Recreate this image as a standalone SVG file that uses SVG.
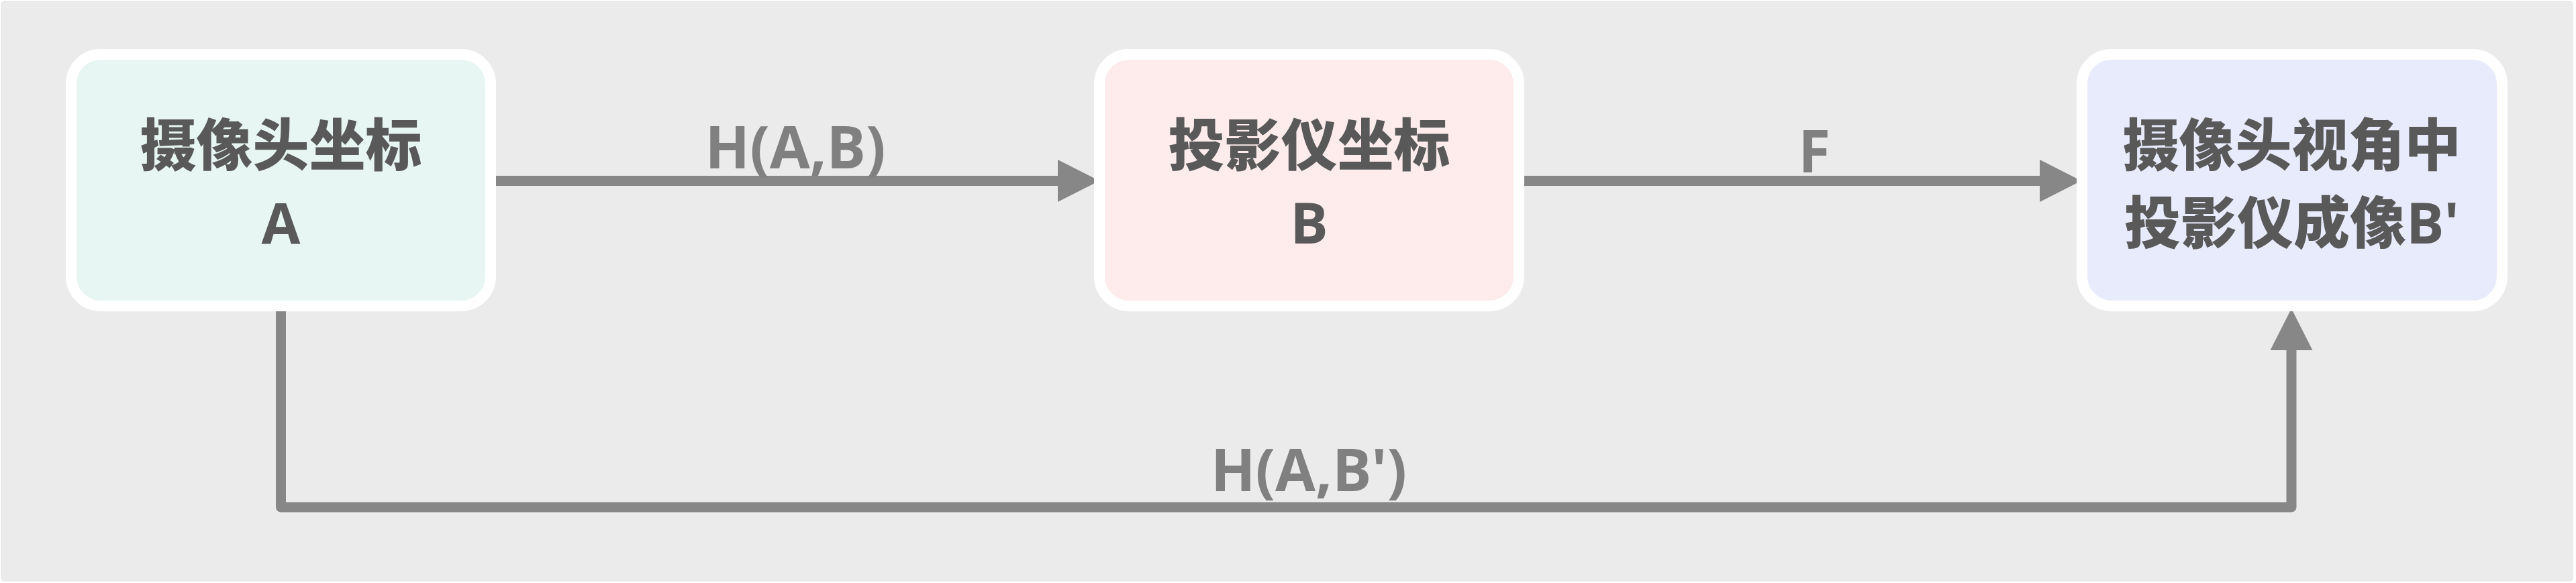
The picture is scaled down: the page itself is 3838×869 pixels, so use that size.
<svg xmlns="http://www.w3.org/2000/svg" width="3838" height="869" viewBox="0 0 3838 869">
  <style>
    .node rect { stroke: #FFFFFF; stroke-width: 16; }
    .ntext { font-family: "Open Sans", "Noto Sans CJK SC", sans-serif; font-weight: 700; font-size: 84px; fill: #595959; text-anchor: middle; }
    .cjk { font-weight: 900; }
    .conn { fill: none; stroke: #878787; stroke-width: 15; stroke-linejoin: round; }
    .label { font-family: "Open Sans", "Noto Sans CJK SC", sans-serif; font-weight: 700; font-size: 87px; fill: #808080; text-anchor: middle; }
  </style>
  <defs>
    <marker id="arrow" viewBox="0 0 62 63" refX="2" refY="31.5" markerWidth="62" markerHeight="63" markerUnits="userSpaceOnUse" orient="auto">
      <path d="M0,0 L62,31.5 L0,63 Z" fill="#878787"/>
    </marker>
  </defs>
  <rect x="0" y="0" width="3838" height="869" fill="#FFFFFF"/>
  <rect x="2" y="2" width="3831" height="864" rx="4" fill="#EBEBEB" stroke="#E3E3E3" stroke-width="1"/>

  <g id="connectors">
    <path class="conn" d="M731,269.5 H1578" marker-end="url(#arrow)"/>
    <path class="conn" d="M2262,269.5 H3041" marker-end="url(#arrow)"/>
    <path class="conn" d="M418.5,456 V756 H3414 V520" marker-end="url(#arrow)"/>
    <text class="label" x="1185" y="251">H(A,B)</text>
    <text class="label" x="2703" y="257">F</text>
    <text class="label" x="1950" y="732">H(A,B')</text>
  </g>

  <g id="node-a" class="node">
    <rect x="106" y="81" width="625" height="375" rx="44" fill="#E7F6F3"/>
    <text class="ntext cjk" x="418.5" y="247">摄像头坐标</text>
    <text class="ntext" x="418.5" y="363">A</text>
  </g>
  <g id="node-b" class="node">
    <rect x="1638" y="81" width="625" height="375" rx="44" fill="#FEECEC"/>
    <text class="ntext cjk" x="1950.5" y="247">投影仪坐标</text>
    <text class="ntext" x="1950.5" y="363">B</text>
  </g>
  <g id="node-c" class="node">
    <rect x="3102" y="81" width="626" height="375" rx="44" fill="#E8EBFC"/>
    <text class="ntext cjk" x="3414.5" y="247">摄像头视角中</text>
    <text class="ntext" x="3414.5" y="363"><tspan class="cjk">投影仪成像</tspan>B'</text>
  </g>
</svg>
